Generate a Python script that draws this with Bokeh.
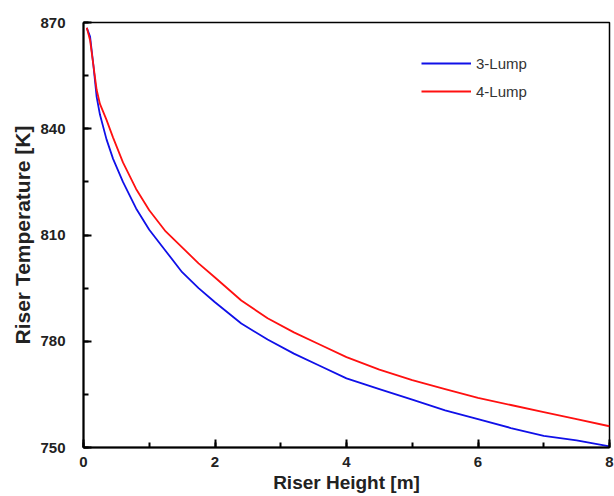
from bokeh.plotting import figure
from bokeh.models import SingleIntervalTicker, Range1d, Legend, LegendItem
from bokeh.embed import file_html
from bokeh.resources import INLINE

height_m = [0.05, 0.1, 0.15, 0.2, 0.25, 0.35, 0.45, 0.6, 0.8, 1.0, 1.25, 1.5, 1.75,
            2.0, 2.4, 2.8, 3.2, 3.6, 4.0, 4.5, 5.0, 5.5, 6.0, 6.5, 7.0, 7.5, 8.0]
temp_3lump = [868.5, 866, 858, 849, 844, 837, 831.5, 825, 817.5, 811.5, 805.5, 799.5, 795,
              791, 785, 780.5, 776.5, 773, 769.5, 766.5, 763.5, 760.5, 758, 755.5, 753.3, 752, 750.3]
temp_4lump = [868.5, 865, 858, 851, 847, 842.5, 837.5, 830.5, 823, 817, 811, 806.5, 802,
              798, 791.5, 786.5, 782.5, 779, 775.5, 772, 769, 766.5, 764, 762, 760, 758, 756]

FONT = "Liberation Sans"

p = figure(width=614, height=496, output_backend="svg", toolbar_location=None,
           x_range=Range1d(0, 8), y_range=Range1d(750, 870),
           min_border_left=83, min_border_top=22, min_border_right=5, min_border_bottom=49)

r3 = p.line(height_m, temp_3lump, line_color="#1010e8", line_width=1.8)
r4 = p.line(height_m, temp_4lump, line_color="#ff1010", line_width=1.8)

p.xgrid.visible = False
p.ygrid.visible = False
p.outline_line_color = "black"
p.outline_line_width = 1.5

p.xaxis.ticker = SingleIntervalTicker(interval=2, num_minor_ticks=2)
p.yaxis.ticker = SingleIntervalTicker(interval=30, num_minor_ticks=2)

for ax in (p.xaxis, p.yaxis):
    ax.axis_line_width = 2
    ax.axis_line_color = "black"
    ax.major_tick_in = 8
    ax.major_tick_out = 0
    ax.minor_tick_in = 5
    ax.minor_tick_out = 0
    ax.major_tick_line_color = "black"
    ax.minor_tick_line_color = "black"
    ax.major_tick_line_width = 2
    ax.minor_tick_line_width = 2
    ax.major_label_text_font = FONT
    ax.major_label_text_font_style = "bold"
    ax.major_label_text_font_size = "15px"
    ax.major_label_text_color = "#222222"
    ax.axis_label_text_font = FONT
    ax.axis_label_text_font_style = "bold"
    ax.axis_label_text_color = "#222222"

p.xaxis.axis_label = "Riser Height [m]"
p.yaxis.axis_label = "Riser Temperature [K]"
p.xaxis.axis_label_text_font_size = "19px"
p.yaxis.axis_label_text_font_size = "21px"
p.xaxis.major_label_standoff = 9
p.xaxis.axis_label_standoff = 2
p.yaxis.major_label_standoff = 18
p.yaxis.axis_label_standoff = 3

legend = Legend(items=[LegendItem(label="3-Lump", renderers=[r3]),
                       LegendItem(label="4-Lump", renderers=[r4])],
                location=(338, 346), border_line_color=None, background_fill_alpha=0,
                padding=0, margin=0, glyph_width=50, glyph_height=20, spacing=8,
                label_standoff=5, label_text_font=FONT, label_text_font_size="15px",
                label_text_color="#333333")
p.add_layout(legend)

open("out.html", "w").write(file_html(p, INLINE))
